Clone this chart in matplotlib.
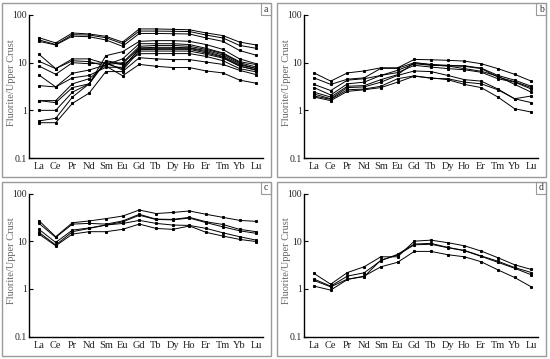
import matplotlib
matplotlib.use("Agg")
import matplotlib.pyplot as plt
from matplotlib.patches import Rectangle
import numpy as np

elements = ["La", "Ce", "Pr", "Nd", "Sm", "Eu", "Gd", "Tb", "Dy", "Ho", "Er", "Tm", "Yb", "Lu"]

# panel a - fluorite / upper crust
panel_a = [
    [33.4, 26, 41.9, 40, 35.7, 27, 51, 51, 50, 49, 42, 37, 27, 23.5],
    [30, 24, 38.6, 38, 33.4, 25, 46, 46, 45.5, 45, 38, 33, 23, 20],
    [28, 23.5, 36, 35, 30, 22, 41, 41, 40.5, 40, 33, 28, 18, 14.3],
    [15, 7.5, 12, 12, 9.5, 7.5, 20, 20, 20, 20, 17, 13.5, 9, 7.5],
    [10.7, 7.5, 11, 10.5, 8.5, 5.3, 9.2, 8.4, 7.9, 7.9, 6.7, 6.1, 4.3, 3.7],
    [8.5, 5.7, 10, 9.5, 10, 7, 17.5, 17.5, 17.5, 17.5, 15, 12.5, 8.5, 7],
    [5.5, 3.1, 6, 7, 9, 10, 22, 23, 23, 22, 19, 15.5, 10, 8.1],
    [3.3, 3.1, 4.8, 5.4, 8, 8, 18.8, 19, 19, 19, 16, 13, 8.5, 6.9],
    [1.6, 1.6, 3.6, 4.6, 9, 12, 25, 25, 25, 24, 20, 16, 10.5, 9.1],
    [1.6, 1.45, 3.0, 3.6, 10.5, 9, 15.4, 15.5, 15.5, 15.5, 13.5, 11, 7.5, 6.4],
    [1.0, 1.0, 2.4, 3.6, 14, 17, 28, 29, 29, 28, 24, 19, 12, 9.5],
    [0.6, 0.68, 1.9, 3.6, 11, 9.5, 20.4, 21, 21, 20.5, 18, 14.5, 9.5, 7.5],
    [0.55, 0.55, 1.4, 2.3, 6.5, 6.5, 12.7, 12, 11.6, 11.6, 10.3, 9.2, 6.9, 5.6],
]

panel_b = [
    [6.1, 4.1, 6.1, 6.7, 7.8, 7.8, 11.7, 11.5, 11.2, 10.8, 9.5, 7.5, 5.7, 4.1],
    [4.8, 3.5, 4.5, 4.8, 7.6, 7.6, 10, 9.2, 8.8, 8.6, 7.7, 5.4, 4.3, 3.2],
    [3.5, 2.6, 4.3, 4.6, 5.4, 6.9, 9.5, 8.8, 8.6, 8.4, 7.5, 5.0, 4.0, 3.0],
    [3.0, 2.1, 3.6, 3.9, 5.4, 6.2, 8.8, 8.1, 7.5, 7.1, 6.3, 4.6, 3.9, 2.8],
    [2.4, 1.9, 3.2, 3.3, 4.4, 5.6, 10, 9.0, 8.5, 7.5, 6.6, 5.2, 3.5, 2.4],
    [2.2, 1.75, 3.0, 3.1, 3.9, 5.4, 6.7, 6.5, 5.4, 4.4, 4.1, 2.8, 1.75, 2.0],
    [2.0, 1.7, 2.7, 2.8, 3.2, 4.6, 5.3, 4.7, 4.6, 3.9, 3.6, 2.7, 1.75, 1.45],
    [1.9, 1.6, 2.5, 2.7, 3.0, 3.9, 5.2, 4.8, 4.4, 3.5, 3.0, 1.9, 1.08, 0.92],
]

panel_c = [
    [26.9, 12.4, 24.4, 26.5, 29.7, 33.6, 45, 38, 40, 43, 36.6, 31.6, 27.3, 26],
    [23.6, 12, 22.8, 23.6, 22.8, 26.5, 36.6, 29, 28.6, 31.6, 25.5, 22.4, 17.7, 15.8],
    [17.7, 9.4, 17.1, 18.9, 21.8, 25.3, 35, 28.5, 28, 30.5, 24.5, 20, 16.5, 14.6],
    [15.3, 8.3, 15.8, 18.5, 21.8, 23.5, 27.3, 23.6, 21.8, 21.4, 18.5, 15, 12.4, 10.5],
    [14.1, 8.0, 14.1, 15.8, 15.8, 17.7, 22.8, 18.5, 17.7, 20.8, 15.3, 12.8, 10.9, 9.8],
]

panel_d = [
    [2.1, 1.25, 2.2, 2.9, 4.7, 4.7, 10, 10.5, 9.3, 8.0, 6.2, 4.5, 3.2, 2.55],
    [1.6, 1.14, 1.85, 2.17, 3.9, 5.3, 8.7, 9.0, 7.4, 6.4, 4.9, 3.8, 2.8, 2.2],
    [1.5, 1.1, 1.6, 1.8, 4.0, 5.1, 8.4, 8.6, 7.3, 6.3, 4.8, 3.6, 2.7, 1.97],
    [1.14, 0.94, 1.57, 1.85, 2.9, 3.6, 6.1, 6.1, 5.2, 4.7, 3.7, 2.5, 1.73, 1.1],
]

W, H = 550, 359
fig = plt.figure(figsize=(W / 100, H / 100), dpi=100)
fig.patch.set_facecolor("white")


def px_rect(x0, y0, x1, y1):
    # pixel box (top-left origin) -> figure fraction [l, b, w, h]
    return [x0 / W, (H - y1) / H, (x1 - x0) / W, (y1 - y0) / H]


panels = [
    ("a", panel_a, 0, 0),
    ("b", panel_b, 275, 0),
    ("c", panel_c, 0, 178.5),
    ("d", panel_d, 275, 178.5),
]

x = np.arange(len(elements))
for label, data, ox, oy in panels:
    # outer frame
    l, b, w, h = px_rect(ox + 2, oy + 3, ox + 271, oy + 177)
    fig.add_artist(Rectangle((l, b), w, h, transform=fig.transFigure,
                             fill=False, edgecolor="#9a9a9a", lw=1.0))
    # letter box
    l, b, w, h = px_rect(ox + 261, oy + 3, ox + 271, oy + 15)
    fig.add_artist(Rectangle((l, b), w, h, transform=fig.transFigure,
                             fill=False, edgecolor="#9a9a9a", lw=0.8))
    fig.text((ox + 266) / W, (H - oy - 9) / H, label, ha="center", va="center",
             fontsize=7, family="Liberation Serif", color="#333333")

    ax = fig.add_axes(px_rect(ox + 29.3, oy + 15, ox + 263, oy + 158))
    for row in data:
        ax.plot(x, row, color="black", lw=0.7, marker="s", ms=1.2)
    ax.set_yscale("log")
    ax.set_ylim(0.1, 100)
    ax.set_xlim(-0.58, 13.4)
    ax.set_yticks([0.1, 1, 10, 100])
    ax.set_yticklabels(["0.1", "1", "10", "100"])
    ax.minorticks_off()
    ax.set_xticks(x)
    ax.set_xticklabels(elements)
    ax.tick_params(axis="y", direction="in", length=3, width=0.8, pad=1.5,
                   labelsize=7, labelcolor="#222222")
    ax.tick_params(axis="x", length=0, pad=3, labelsize=7.5,
                   labelcolor="#222222")
    for t in ax.get_xticklabels() + ax.get_yticklabels():
        t.set_family("Liberation Serif")
    ax.spines["top"].set_visible(False)
    ax.spines["right"].set_visible(False)
    ax.spines["left"].set_linewidth(1.0)
    ax.spines["bottom"].set_linewidth(1.0)
    ax.set_ylabel("Fluorite/Upper Crust", fontsize=7.5, color="#666666",
                  family="Liberation Serif")
    ax.yaxis.set_label_coords(-0.055, 0.53)

fig.savefig("out.png", dpi=100)
